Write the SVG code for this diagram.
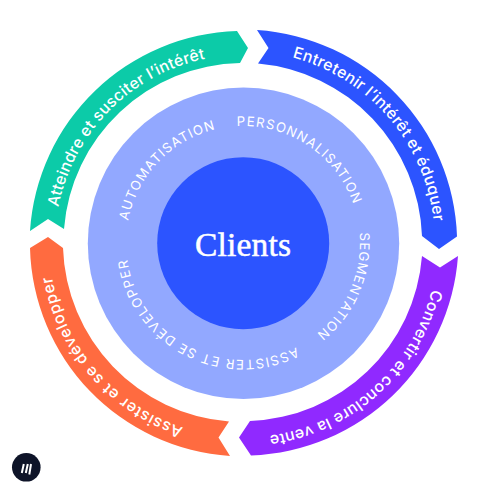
<svg xmlns="http://www.w3.org/2000/svg" width="494" height="494" viewBox="0 0 494 494">
<style>
.o{font-family:"Inter","Liberation Sans",sans-serif;font-size:15.8px;font-weight:500;fill:#fff}
.i{font-family:"Inter","Liberation Sans",sans-serif;font-size:13.2px;font-weight:400;fill:#fff}
</style>
<defs>
<path id="cg" d="M243 55A188 188 0 1 1 242.99 55"/>
<path id="cb" d="M243 51A192 192 0 1 1 242.99 51"/>
<path id="cp" d="M243 48.500A194.500 194.500 0 1 1 242.99 48.500"/>
<path id="co" d="M243 49A194 194 0 1 1 242.99 49"/>
<path id="ci" d="M243 126A117 117 0 1 1 242.99 126"/>
</defs>
<rect width="494" height="494" fill="#fff"/>
<g id="disc"><circle cx="243.500" cy="243.300" r="155.700" fill="#92a8ff"/></g>
<g id="clients"><circle cx="243.200" cy="243.200" r="86" fill="#2c54ff"/>
<text x="243" y="255.700" text-anchor="middle" font-family="'Liberation Serif',serif" font-size="33.500" fill="#fff" stroke="#fff" stroke-width="0.500" textLength="96">Clients</text></g>
<g id="connectors"></g>
<g id="seg-green"><path d="M30 231A214 214 0 0 1 237 31L248 48L240 63A180 180 0 0 0 64 229L48 219Z" fill="#0ccba8"/>
<text class="o" transform="rotate(281 243 243)"><textPath href="#cg" textLength="221">Atteindre et susciter l’intérêt</textPath></text></g>
<g id="seg-blue"><path d="M257 30A214 214 0 0 1 457 236.500L439 249L422 236A180 180 0 0 0 258 63.500L268.500 48Z" fill="#2c54ff"/>
<text class="o" transform="rotate(14.900 243 243)"><textPath href="#cb" textLength="230">Entretenir l’intérêt et éduquer</textPath></text></g>
<g id="seg-purple"><path d="M458 256A215 215 0 0 1 251 455.500L239 437.500L250 421A179 179 0 0 0 422 256L440 267.500Z" fill="#9029ff"/>
<text class="o" transform="rotate(103.800 243 243)"><textPath href="#cp" textLength="232">Convertir et conclure la vente</textPath></text></g>
<g id="seg-orange"><path d="M30 248L48 237L63 248A180 180 0 0 0 229 421.500L218.500 437.500L230 456A214 214 0 0 1 30 248Z" fill="#ff6b40"/>
<text class="o" transform="rotate(198 243 243)"><textPath href="#co" textLength="210">Assister et se développer</textPath></text></g>
<g id="t-perso"><text class="i" transform="rotate(-3 243 243)"><textPath href="#ci" textLength="150">PERSONNALISATION</textPath></text></g>
<g id="t-seg"><text class="i" transform="rotate(85 243 243)"><textPath href="#ci" textLength="114">SEGMENTATION</textPath></text></g>
<g id="t-assist"><text class="i" transform="rotate(153 243 243)"><textPath href="#ci" textLength="222">ASSISTER ET SE DÉVELOPPER</textPath></text></g>
<g id="t-auto"><text class="i" transform="rotate(-79 243 243)"><textPath href="#ci" textLength="133">AUTOMATISATION</textPath></text></g>
<g id="logo"><circle cx="26.300" cy="467.300" r="14.300" fill="#0e1428"/>
<path d="M21.800 473L23.800 464M25.800 473L27.800 464M29.300 474.500L31 464" stroke="#fff" stroke-width="2" fill="none"/></g>
</svg>
